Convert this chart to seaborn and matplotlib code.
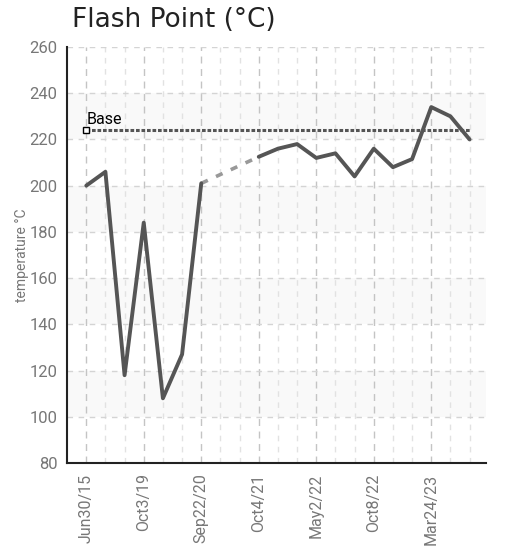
import numpy as np
import pandas as pd
import matplotlib
matplotlib.use('Agg')
import matplotlib.pyplot as plt
import seaborn as sns

# sample index and the dates shown on the x axis (every third sample is labelled)
sample_idx = list(range(21))
tick_idx = [0, 3, 6, 9, 12, 15, 18]
tick_labels = ['Jun30/15', 'Oct3/19', 'Sep22/20', 'Oct4/21', 'May2/22', 'Oct8/22', 'Mar24/23']

# flash point readings (nan = no reading)
flash_point = [200, 206, 118, 184, 108, 127, 201, np.nan, np.nan, 212.5,
               216, 218, 212, 214, 204, 216, 208, 211.5, 234, 230, 220]
base_value = 224

df = pd.DataFrame({'idx': sample_idx, 'temp': flash_point})
seg_a = df[df['idx'] <= 6]
seg_b = df[df['idx'] >= 9]
gap = df[df['idx'].isin([6, 9])]
base_df = pd.DataFrame({'idx': [sample_idx[0], sample_idx[-1]], 'temp': [base_value, base_value]})

sns.set_style('white')
plt.rcParams['font.family'] = ['DejaVu Sans']
narrow = ['Roboto', 'DejaVu Sans']

fig = plt.figure(figsize=(5.12, 5.49), dpi=100)
ax = fig.add_axes([0.131, 0.1566, 0.818, 0.7578])

# light alternating bands
for lo in [100, 140, 180, 220]:
    ax.axhspan(lo, lo + 20, color='#f9f9f9', zorder=0, lw=0)

# grid
ax.set_yticks(range(80, 261, 20))
ax.set_xticks(tick_idx)
ax.set_xticks(sample_idx, minor=True)
ax.grid(axis='y', which='major', color='#d4d4d4', ls=(0, (4, 4)), lw=1, zorder=1)
ax.grid(axis='x', which='minor', color='#e2e2e2', ls=(0, (4, 4)), lw=1, zorder=1)
ax.grid(axis='x', which='major', color='#c4c4c4', ls=(0, (5, 4)), lw=1, zorder=1)

# base line
sns.lineplot(data=base_df, x='idx', y='temp', ax=ax, color='#555555', lw=2.2,
             ls=(0, (1.2, 0.6)), zorder=3)
ax.plot(base_df['idx'][:1], base_df['temp'][:1], marker='s', ms=5, mfc='white',
        mec='black', mew=1, ls='none', zorder=4)
ax.text(0, base_value + 1.5, 'Base', fontsize=11.5, color='black', ha='left', va='bottom',
        family=narrow, zorder=4)

# readings
sns.lineplot(data=gap, x='idx', y='temp', ax=ax, color='#999999', lw=2.6,
             ls=(0, (2, 2.5)), zorder=3)
sns.lineplot(data=seg_a, x='idx', y='temp', ax=ax, color='#555555', lw=2.8, zorder=3)
sns.lineplot(data=seg_b, x='idx', y='temp', ax=ax, color='#555555', lw=2.8, zorder=3)

ax.set_xlim(-1, 20.85)
ax.set_ylim(80, 260)
ax.set_xticklabels(tick_labels, rotation=90, family=narrow, fontsize=11.5, color='#777777')
ax.set_yticklabels([str(v) for v in range(80, 261, 20)], family=narrow, fontsize=12,
                   color='#777777')
ax.tick_params(axis='x', which='major', direction='inout', length=9, width=1.5,
               color='#222222', pad=3)
ax.tick_params(axis='x', which='minor', length=0)
ax.tick_params(axis='y', direction='out', length=5, width=1.5, color='#222222', pad=2)

for side in ['top', 'right']:
    ax.spines[side].set_visible(False)
for side in ['left', 'bottom']:
    ax.spines[side].set_color('#222222')
    ax.spines[side].set_linewidth(1.5)

ax.set_xlabel('')
ax.set_ylabel('temperature °C', family=narrow, fontsize=10, color='#777777', labelpad=0)

fig.text(0.141, 0.963, 'Flash Point (°C)', fontsize=19, color='#222222', ha='left',
         va='center')

fig.savefig('out.png', dpi=100)
